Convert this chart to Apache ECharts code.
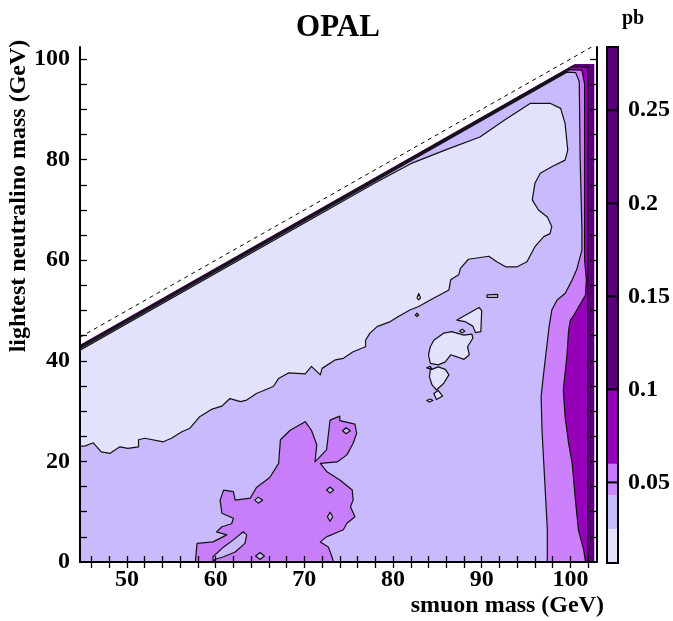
<!DOCTYPE html>
<html><head><meta charset="utf-8">
<script src="https://cdn.jsdelivr.net/npm/echarts@6/dist/echarts.min.js"></script>
<style>html,body{margin:0;padding:0;background:#fff}#c{width:673px;height:621px}</style>
</head><body><div id="c"></div>
<script>
// ---- axes ----
const xRange = [44.7, 103];
const yRange = [0, 102.4];
const xLabelValues = [50, 60, 70, 80, 90, 100];
const xTickValues = [46,48,50,52,54,56,58,60,62,64,66,68,70,72,74,76,78,80,82,84,86,88,90,92,94,96,98,100,102];
const yLabelValues = [0, 20, 40, 60, 80, 100];
const yTickValues = [5,10,15,20,25,30,35,40,45,50,55,60,65,70,75,80,85,90,95,100];
// ---- colour scale (pb) ----
const zRange = [0.0067, 0.284];
const zLabelValues = [0.05, 0.1, 0.15, 0.2, 0.25];
const levelBounds = [0.0067, 0.025, 0.043, 0.05, 0.06, 0.1, 0.284];
const levelColors = ['#e2e2fd', '#c9bafd', '#cc88fc', '#cc78fc', '#9600b8', '#5b0079'];
// ---- kinematic limit ----
const kinematicLine = [[44.7, 44.7], [102.4, 102.4]];
// ---- contour regions (smuon mass, neutralino mass) ----
const regionAll = [[44.7,0],[44.7,43.2],[100.5,99.0],[102.7,99.0],[102.7,0]];
const regionBelow010 = [[44.7,0],[44.7,42.9],[100.2,98.5],[101.95,98.4],[101.95,0]];
const regionBelow006 = [[44.7,0],[44.7,42.65],[99.9,97.9],[101.3,97.8],[101.6,95],[101.6,60],[101.8,56.1],[101.7,53.1],[100.4,49.1],[100.0,48.1],[99.8,46.1],[99.6,40.8],[99.2,34.2],[99.4,28.9],[99.8,23.6],[100.2,19.6],[100.4,15.6],[100.6,11.7],[100.9,6.4],[101.5,2.4],[101.7,0]];
const regionBelow0043 = [[44.7,0],[44.7,42.4],[99.6,97.4],[100.6,97.3],[101.0,95.5],[101.1,80],[101.3,66],[101.3,62.0],[100.7,58.1],[100.2,56.1],[99.4,53.4],[98.5,52.1],[97.9,50.1],[97.6,46.8],[97.2,40.8],[96.9,36.2],[96.7,32.9],[96.8,26.2],[97.0,19.6],[97.2,13.0],[97.4,6.4],[97.4,0]];
const blobAbove0043 = [[57.7,0],[57.9,3.7],[59.7,4.0],[61.25,5.4],[60.1,6.0],[60.7,7.0],[61.8,7.6],[62.0,8.7],[60.7,9.7],[60.5,12.3],[60.9,14.3],[62.0,14.0],[62.2,12.3],[63.9,12.7],[64.6,14.8],[66.1,16.8],[67.1,19.6],[67.3,24.3],[68.4,26.2],[70.1,27.9],[70.8,26.2],[71.4,23.3],[71.2,19.9],[72.5,22.3],[72.9,28.2],[74.0,29.0],[74.0,28.1],[75.7,27.4],[75.9,25.6],[75.5,23.6],[74.8,21.3],[73.7,19.9],[71.8,19.6],[72.5,18.0],[74.0,16.3],[75.4,14.3],[75.5,12.3],[75.2,11.0],[75.7,9.0],[74.8,7.7],[74.4,6.4],[72.5,5.0],[71.8,4.0],[72.7,3.0],[73.1,1.1],[73.3,0]];
const blobHoles = [
  [[59.7,0],[59.9,0.5],[60.9,1.05],[62.2,2.0],[63.3,3.7],[63.5,5.4],[63.1,6.0],[62.0,4.4],[60.9,3.0],[59.7,1.05]],
  [[64.4,12.3],[64.8,12.9],[65.3,12.3],[64.8,11.7]],
  [[72.5,14.3],[72.9,14.9],[73.3,14.3],[72.9,13.7]],
  [[72.6,9.0],[72.9,9.9],[73.2,9.0],[72.9,8.1]],
  [[64.5,1.2],[65.0,1.9],[65.5,1.2],[65.0,0.5]],
  [[74.3,26.1],[74.7,26.7],[75.2,26.1],[74.7,25.5]]
];
const regionBelow0025 = [[44.7,23.0],[45.3,23.1],[46.2,23.7],[47.1,21.9],[48.1,21.6],[49.2,22.9],[50.1,22.6],[51.3,22.9],[51.3,24.3],[52.0,24.6],[54.1,23.9],[55.0,24.6],[56.2,25.9],[57.1,26.6],[58.2,28.9],[59.6,30.4],[60.7,31.0],[61.6,32.5],[62.8,31.9],[63.5,32.2],[64.6,33.5],[66.5,34.9],[67.1,36.5],[68.2,37.6],[70.1,37.4],[70.8,38.9],[71.8,37.2],[72.0,38.5],[73.5,40.2],[74.4,40.5],[75.5,41.8],[76.9,42.8],[76.9,44.1],[77.4,45.5],[78.2,46.8],[79.7,47.8],[80.6,48.8],[81.9,50.1],[82.9,50.8],[84.2,52.1],[86.3,54.1],[86.5,56.1],[87.4,57.1],[87.6,58.4],[88.5,60.2],[90.8,60.8],[91.7,59.7],[92.7,58.7],[94.0,58.7],[95.1,59.7],[96.0,62.7],[97.0,64.7],[97.7,65.3],[97.9,66.7],[97.4,68.6],[96.4,70.0],[95.7,72.0],[96.0,75.3],[96.6,77.3],[97.9,78.6],[99.4,79.9],[99.7,81.9],[99.4,87.2],[98.9,90.2],[97.7,91.2],[95.5,91.2],[92.5,87.8],[89.8,84.5],[86.0,82.0],[82.0,79.2],[78.0,75.4],[44.7,42.1]];
const islandsBelow0025 = [
  [[84.2,42.8],[84.6,44.1],[85.7,45.5],[86.6,45.8],[88.0,45.1],[88.9,45.3],[89.0,44.5],[88.4,42.8],[88.6,41.2],[88.0,40.3],[87.2,40.8],[86.5,41.2],[85.9,39.8],[85.1,39.2],[84.2,39.5],[84.0,41.2]],
  [[84.2,38.2],[85.1,38.8],[85.9,38.3],[86.3,37.2],[85.7,35.5],[84.9,34.2],[84.4,35.2],[84.1,36.8]],
  [[84.6,33.5],[85.1,34.1],[85.6,33.0],[84.9,32.3]],
  [[87.2,48.1],[89.7,50.6],[90.0,50.0],[89.9,45.8],[89.3,45.6],[89.0,46.9],[88.1,47.8]],
  [[82.7,52.5],[82.9,53.4],[83.1,52.5],[82.9,52.1]],
  [[82.5,49.1],[82.7,49.5],[82.9,49.1],[82.7,48.8]],
  [[90.6,53.1],[91.8,53.2],[91.8,52.6],[90.6,52.6]],
  [[87.5,45.9],[87.8,46.3],[88.1,45.9],[87.8,45.6]],
  [[83.8,32.1],[84.2,32.4],[84.5,32.1],[84.1,31.8]],
  [[83.8,38.6],[84.2,38.9],[84.4,38.3]]
];

const FONT = '"Liberation Serif", "DejaVu Serif", serif';
const lw = 1.2, lineCol = '#111';

function polySeries(polys, fill, stroke, z) {
  return {
    type: 'custom', coordinateSystem: 'cartesian2d', xAxisIndex: 0, yAxisIndex: 0,
    data: polys.map(p => p[0]), silent: true, animation: false, z: z, clip: true,
    renderItem: function (params, api) {
      const pts = polys[params.dataIndex].map(v => api.coord(v));
      return { type: 'polygon', shape: { points: pts },
        style: { fill: fill, stroke: stroke ? lineCol : null, lineWidth: lw, lineJoin: 'round' } };
    }
  };
}

const bandData = levelColors.map((c, i) => [levelBounds[i], levelBounds[i + 1], i]);

const chart = echarts.init(document.getElementById('c'), null, { renderer: 'canvas' });
const axisLineStyle = { show: true, lineStyle: { color: '#000', width: 2 } };
const tickStyle = { lineStyle: { color: '#000', width: 1.3 } };
const labelStyle = { color: '#000', fontFamily: FONT, fontWeight: 'bold', fontSize: 24 };

chart.setOption({
  animation: false,
  backgroundColor: '#fff',
  grid: [
    { left: 80, top: 47, width: 517, bottom: 59, containLabel: false },
    { left: 607, top: 47, width: 15, bottom: 58, containLabel: false }
  ],
  xAxis: [
    { type: 'value', gridIndex: 0, position: 'bottom', min: xRange[0], max: xRange[1], z: 10,
      axisLine: axisLineStyle, splitLine: { show: false },
      axisTick: Object.assign({ inside: true, length: 6, customValues: xTickValues }, tickStyle),
      axisLabel: Object.assign({ margin: 6, customValues: xLabelValues }, labelStyle) },
    { type: 'value', gridIndex: 0, position: 'top', min: xRange[0], max: xRange[1], z: 10,
      axisLine: axisLineStyle, splitLine: { show: false },
      axisTick: Object.assign({ inside: true, length: 6, customValues: xTickValues }, tickStyle),
      axisLabel: { show: false } },
    { type: 'value', gridIndex: 1, min: 0, max: 1, show: false }
  ],
  yAxis: [
    { type: 'value', gridIndex: 0, position: 'left', min: yRange[0], max: yRange[1], z: 10,
      axisLine: axisLineStyle, splitLine: { show: false },
      axisTick: Object.assign({ inside: true, length: 7, customValues: yTickValues }, tickStyle),
      axisLabel: Object.assign({ margin: 10, customValues: yLabelValues }, labelStyle) },
    { type: 'value', gridIndex: 0, position: 'right', min: yRange[0], max: yRange[1], z: 10,
      axisLine: axisLineStyle, splitLine: { show: false },
      axisTick: Object.assign({ inside: true, length: 7, customValues: yTickValues }, tickStyle),
      axisLabel: { show: false } },
    { type: 'value', gridIndex: 1, position: 'right', min: zRange[0], max: zRange[1], z: 10,
      axisLine: { show: false }, splitLine: { show: false }, axisTick: { show: false },
      axisLabel: Object.assign({ margin: 10, customValues: zLabelValues, formatter: v => String(+v.toFixed(2)) }, labelStyle) }
  ],
  series: [
    polySeries([regionAll], levelColors[5], false, 2),
    polySeries([regionBelow010], levelColors[4], true, 3),
    polySeries([regionBelow006], '#cc80fc', true, 4),
    polySeries([regionBelow0043], levelColors[1], true, 5),
    polySeries([blobAbove0043], '#c97ef9', true, 6),
    polySeries(blobHoles, levelColors[1], true, 7),
    polySeries([regionBelow0025], levelColors[0], true, 8),
    polySeries(islandsBelow0025, levelColors[0], true, 9),
    { type: 'line', xAxisIndex: 0, yAxisIndex: 0, data: kinematicLine, symbol: 'none', z: 9,
      lineStyle: { color: '#000', width: 1, type: [4, 4] }, silent: true, animation: false },
    // colour bar bands
    { type: 'custom', coordinateSystem: 'cartesian2d', xAxisIndex: 2, yAxisIndex: 2, data: bandData,
      silent: true, animation: false, z: 3,
      renderItem: function (params, api) {
        const p0 = api.coord([0, api.value(0)]);
        const p1 = api.coord([1, api.value(1)]);
        return { type: 'rect', shape: { x: p0[0], y: p1[1], width: p1[0] - p0[0], height: p0[1] - p1[1] },
          style: { fill: levelColors[api.value(2)] } };
      } },
    // colour bar ticks across the bar
    { type: 'custom', coordinateSystem: 'cartesian2d', xAxisIndex: 2, yAxisIndex: 2, data: zLabelValues,
      silent: true, animation: false, z: 4,
      renderItem: function (params, api) {
        const v = zLabelValues[params.dataIndex];
        const p0 = api.coord([0, v]);
        const p1 = api.coord([1, v]);
        return { type: 'line', shape: { x1: p0[0], y1: p0[1], x2: p1[0], y2: p1[1] },
          style: { stroke: '#000', lineWidth: 2 } };
      } },
    // colour bar frame
    { type: 'custom', coordinateSystem: 'cartesian2d', xAxisIndex: 2, yAxisIndex: 2, data: [zRange],
      silent: true, animation: false, z: 5,
      renderItem: function (params, api) {
        const p0 = api.coord([0, zRange[0]]);
        const p1 = api.coord([1, zRange[1]]);
        return { type: 'rect', shape: { x: p0[0], y: p1[1], width: p1[0] - p0[0], height: p0[1] - p1[1] },
          style: { fill: null, stroke: '#000', lineWidth: 2 } };
      } }
  ],
  graphic: [
    { type: 'text', x: 338, y: 28, style: { text: 'OPAL', align: 'center', verticalAlign: 'middle', font: 'bold 31px ' + FONT, fill: '#000' } },
    { type: 'text', x: 633, y: 19, style: { text: 'pb', align: 'center', verticalAlign: 'middle', font: 'bold 20px ' + FONT, fill: '#000' } },
    { type: 'text', x: 604, y: 606, style: { text: 'smuon mass (GeV)', align: 'right', verticalAlign: 'middle', font: 'bold 24px ' + FONT, fill: '#000' } },
    { type: 'text', x: 19, y: 196, rotation: Math.PI / 2, style: { text: 'lightest neutralino mass (GeV)', align: 'center', verticalAlign: 'middle', font: 'bold 24px ' + FONT, fill: '#000' } }
  ]
});
</script></body></html>
